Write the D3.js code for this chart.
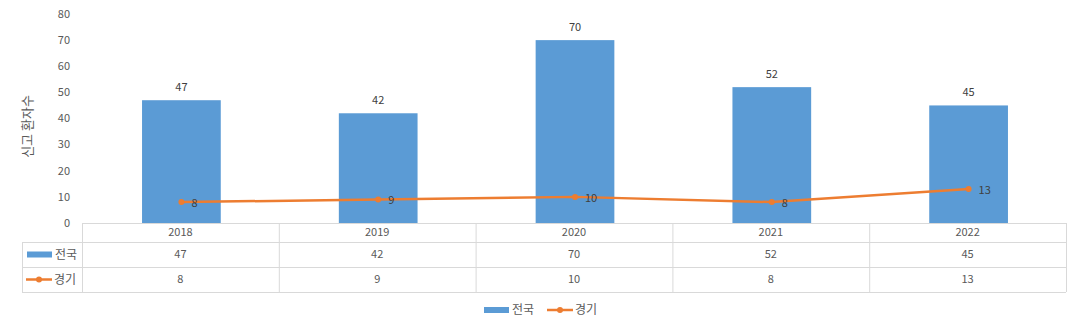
<!DOCTYPE html>
<html>
<head>
<meta charset="utf-8">
<script src="https://cdn.jsdelivr.net/npm/d3@7"></script>
<style>
  body { margin: 0; background: white; }
  svg text { font-family: "Noto Sans CJK KR", "Noto Sans", sans-serif; }
</style>
</head>
<body>
<script>
const years = ['2018', '2019', '2020', '2021', '2022']
const national = [47, 42, 70, 52, 45]
const gyeonggi = [8, 9, 10, 8, 13]
const yTicks = [0, 10, 20, 30, 40, 50, 60, 70, 80]
const seriesNames = ['전국', '경기']

const W = 1080, H = 330
const blue = '#5B9BD5', orange = '#ED7D31'
const grid = '#d9d9d9', tickColor = '#595959', labelColor = '#404040'

const plot = {left: 82, right: 1066, top: 14, bottom: 223}
const rowH = [19, 25, 25]
const tableLeft = 22

const svg = d3.select('body').append('svg')
    .attr('width', W).attr('height', H)

const x = d3.scaleBand().domain(years).range([plot.left, plot.right]).padding(0)
const y = d3.scaleLinear().domain([0, 80]).range([plot.bottom, plot.top])
const barW = x.bandwidth() * 0.4

// y axis labels
svg.append('g').selectAll('text')
    .data(yTicks)
    .join('text')
    .attr('x', 70)
    .attr('y', d => y(d))
    .attr('dy', '0.35em')
    .attr('text-anchor', 'end')
    .attr('font-size', 11)
    .attr('fill', tickColor)
    .text(d => d)

svg.append('text')
    .attr('transform', 'translate(32,' + ((plot.top + plot.bottom) / 2 + 8) + ') rotate(-90)')
    .attr('text-anchor', 'middle')
    .attr('font-size', 13)
    .attr('fill', tickColor)
    .text('신고 환자수')

// bars
svg.append('g').selectAll('rect')
    .data(years)
    .join('rect')
    .attr('x', d => x(d) + (x.bandwidth() - barW) / 2 + 1)
    .attr('y', (d, i) => y(national[i]))
    .attr('width', barW)
    .attr('height', (d, i) => y(0) - y(national[i]))
    .attr('fill', blue)

svg.append('g').selectAll('text')
    .data(years)
    .join('text')
    .attr('x', d => x(d) + x.bandwidth() / 2 + 1)
    .attr('y', (d, i) => y(national[i]) - 9)
    .attr('text-anchor', 'middle')
    .attr('font-size', 11)
    .attr('fill', labelColor)
    .text((d, i) => national[i])

// line
const line = d3.line()
    .x(d => x(d.year) + x.bandwidth() / 2 + 1)
    .y(d => y(d.v))
const pts = years.map((year, i) => ({year: year, v: gyeonggi[i]}))

svg.append('path')
    .datum(pts)
    .attr('d', line)
    .attr('fill', 'none')
    .attr('stroke', orange)
    .attr('stroke-width', 2.5)
    .attr('stroke-linejoin', 'round')

svg.append('g').selectAll('circle')
    .data(pts)
    .join('circle')
    .attr('cx', d => x(d.year) + x.bandwidth() / 2 + 1)
    .attr('cy', d => y(d.v))
    .attr('r', 3)
    .attr('fill', orange)

svg.append('g').selectAll('text')
    .data(pts)
    .join('text')
    .attr('x', d => x(d.year) + x.bandwidth() / 2 + 11)
    .attr('y', d => y(d.v) + 1)
    .attr('dy', '0.35em')
    .attr('font-size', 11)
    .attr('fill', labelColor)
    .text(d => d.v)

// data table
const t = svg.append('g')
const r0 = plot.bottom, r1 = r0 + rowH[0], r2 = r1 + rowH[1], r3 = r2 + rowH[2]

t.append('line').attr('x1', plot.left).attr('x2', plot.right).attr('y1', r0 + 0.5).attr('y2', r0 + 0.5)
t.append('line').attr('x1', tableLeft).attr('x2', plot.right).attr('y1', r1 + 0.5).attr('y2', r1 + 0.5)
t.append('line').attr('x1', tableLeft).attr('x2', plot.right).attr('y1', r2 + 0.5).attr('y2', r2 + 0.5)
t.append('line').attr('x1', tableLeft).attr('x2', plot.right).attr('y1', r3 + 0.5).attr('y2', r3 + 0.5)
t.append('line').attr('x1', tableLeft + 0.5).attr('x2', tableLeft + 0.5).attr('y1', r1).attr('y2', r3)
t.selectAll('line.col')
    .data(years.concat(['end']))
    .join('line')
    .attr('class', 'col')
    .attr('x1', d => (d === 'end' ? plot.right : x(d)) + 0.5)
    .attr('x2', d => (d === 'end' ? plot.right : x(d)) + 0.5)
    .attr('y1', r0).attr('y2', r3)
t.selectAll('line').attr('stroke', grid).attr('stroke-width', 1)

const rows = [
    {vals: years, yc: (r0 + r1) / 2},
    {vals: national, yc: (r1 + r2) / 2},
    {vals: gyeonggi, yc: (r2 + r3) / 2}
]
rows.forEach(row => {
    t.append('g').selectAll('text')
        .data(row.vals)
        .join('text')
        .attr('x', (d, i) => x(years[i]) + x.bandwidth() / 2)
        .attr('y', row.yc)
        .attr('dy', '0.35em')
        .attr('text-anchor', 'middle')
        .attr('font-size', 11)
        .attr('fill', tickColor)
        .text(d => d)
})

function drawKey(g, kx, ky, kind, name){
    if (kind === 'bar'){
        g.append('rect').attr('x', kx).attr('y', ky - 3).attr('width', 25).attr('height', 6).attr('fill', blue)
    } else {
        g.append('line').attr('x1', kx).attr('x2', kx + 26).attr('y1', ky).attr('y2', ky)
            .attr('stroke', orange).attr('stroke-width', 2.5)
        g.append('circle').attr('cx', kx + 13).attr('cy', ky).attr('r', 3).attr('fill', orange)
    }
    g.append('text').attr('x', kx + 28).attr('y', ky).attr('dy', '0.35em')
        .attr('font-size', 12).attr('fill', tickColor).text(name)
}

drawKey(t, 27, (r1 + r2) / 2, 'bar', seriesNames[0])
drawKey(t, 26, (r2 + r3) / 2, 'line', seriesNames[1])

// bottom legend
const lg = svg.append('g')
drawKey(lg, 484, 310, 'bar', seriesNames[0])
drawKey(lg, 547, 310, 'line', seriesNames[1])
</script>
</body>
</html>
